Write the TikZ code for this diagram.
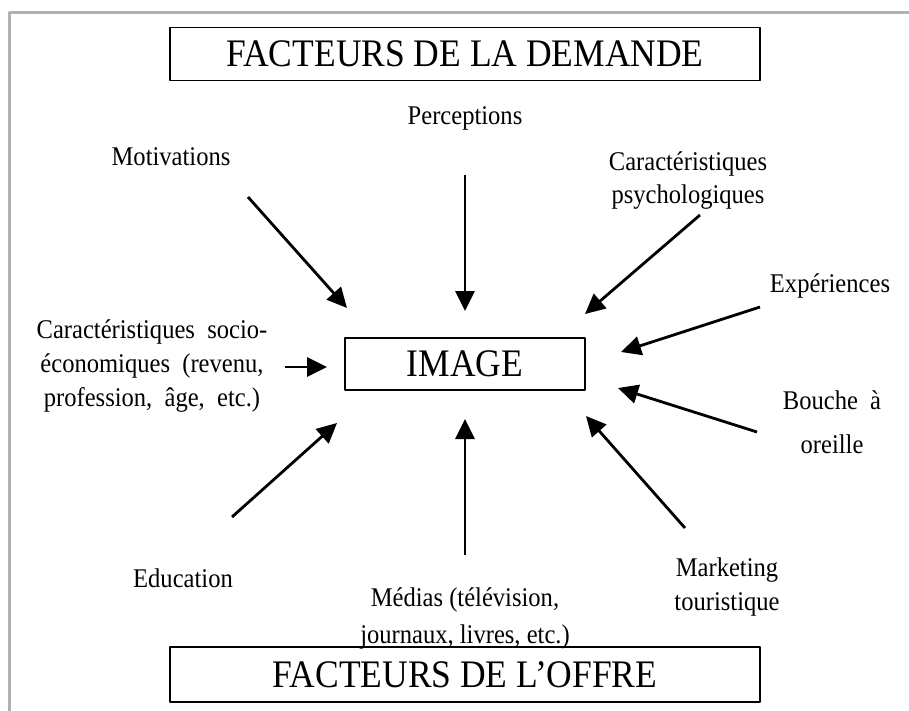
\documentclass[tikz,border=0pt]{standalone}
\usepackage{fontspec}
\setmainfont{Liberation Serif}[FakeStretch=0.91]
\usetikzlibrary{arrows.meta}
\begin{document}
\begin{tikzpicture}[x=1pt, y=-1pt, line join=round, >={Triangle[length=20pt,width=19pt]},
	lbl/.style={align=center, inner sep=0pt, font=\fontsize{27}{33}\selectfont},
	cadre/.style={draw, line width=1.3pt, inner sep=0pt, font=\fontsize{39}{42}\selectfont},
	fleche/.style={->, line width=2.8pt}]
	\useasboundingbox (0,0) rectangle (909,711);
	\draw[gray!60, line width=3pt] (9.5,711) -- (9.5,12.5) -- (909,12.5); % cadre de la page
	% boites
	\node[cadre, minimum width=590pt, minimum height=53pt] (demande) at (465,54) {FACTEURS DE LA DEMANDE};
	\node[cadre, minimum width=590pt, minimum height=55pt] (offre) at (465,674.5) {FACTEURS DE L’OFFRE};
	\node[cadre, minimum width=240pt, minimum height=52pt] (image) at (465,364) {IMAGE};
	% facteurs
	\node[lbl] (percep) at (465,118) {Perceptions};
	\node[lbl] (motiv) at (171,157) {Motivations};
	\node[lbl] (psycho) at (688,181) {Caractéristiques\\psychologiques};
	\node[lbl] (exper) at (830,286) {Expériences};
	\node[lbl, font=\fontsize{27}{34}\selectfont] (socio) at (152,366) {Caractéristiques~~socio-\\économiques~~(revenu,\\profession,~~âge,~~etc.)};
	\node[lbl, font=\fontsize{27}{44}\selectfont] (bouche) at (832,422) {Bouche~~à\\oreille};
	\node[lbl] (educ) at (183,578) {Education};
	\node[lbl, font=\fontsize{27}{37}\selectfont] (medias) at (465,618) {Médias (télévision,\\journaux, livres, etc.)};
	\node[lbl, font=\fontsize{27}{34}\selectfont] (market) at (727,587) {Marketing\\touristique};
	% extremites des fleches
	\coordinate (m1) at (248,197); \coordinate (m2) at (347,308);
	\coordinate (p1) at (465,175); \coordinate (p2) at (465,311);
	\coordinate (c1) at (700,215); \coordinate (c2) at (585,314);
	\coordinate (e1) at (760,307); \coordinate (e2) at (621,352);
	\coordinate (s1) at (285,367); \coordinate (s2) at (327,367);
	\coordinate (b1) at (757,432); \coordinate (b2) at (618,388);
	\coordinate (k1) at (685,528); \coordinate (k2) at (586,416);
	\coordinate (d1) at (465,555); \coordinate (d2) at (465,419);
	\coordinate (u1) at (232,517); \coordinate (u2) at (337,423);
	\draw[fleche] (m1) -- (m2);
	\draw[fleche] (p1) -- (p2);
	\draw[fleche] (c1) -- (c2);
	\draw[fleche] (e1) -- (e2);
	\draw[fleche] (s1) -- (s2);
	\draw[fleche] (b1) -- (b2);
	\draw[fleche] (k1) -- (k2);
	\draw[fleche] (d1) -- (d2);
	\draw[fleche] (u1) -- (u2);
\end{tikzpicture}
\end{document}
